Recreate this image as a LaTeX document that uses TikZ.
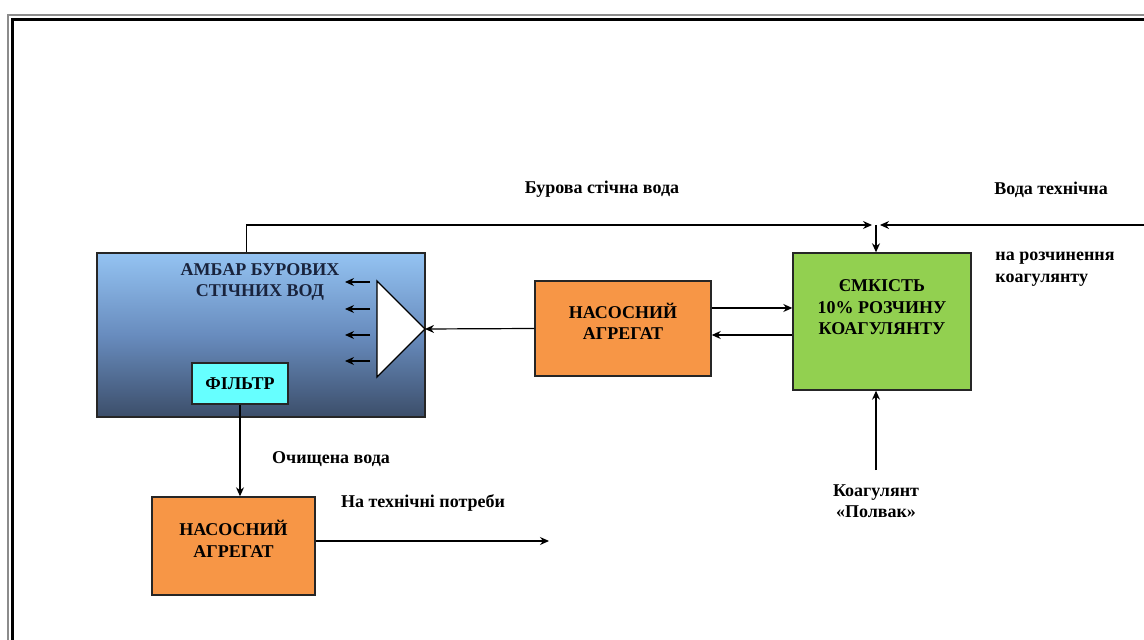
\documentclass[tikz,border=0pt]{standalone}
\usepackage{fontspec}
\setmainfont{Liberation Serif}
\usepackage{tikz}
\usetikzlibrary{arrows.meta, positioning}
\definecolor{pumporange}{RGB}{247,150,70}
\definecolor{tankgreen}{RGB}{146,208,80}
\definecolor{filtercyan}{RGB}{102,255,255}
\definecolor{pittop}{RGB}{148,195,242}
\definecolor{pitmid}{RGB}{104,140,190}
\definecolor{pitbot}{RGB}{60,78,106}
\definecolor{pittext}{RGB}{25,35,60}

\begin{document}
\begin{tikzpicture}[
  x=0.5pt, y=-0.5pt,
  every node/.style={font=\fontsize{9}{10.8}\selectfont\bfseries},
  block/.style={rectangle, draw=black!85, line width=0.7pt,
    inner sep=0pt, align=center},
  pump/.style={block, fill=pumporange, minimum width=88pt, minimum height=47.5pt},
  lbl/.style={inner sep=0pt, align=center},
  arr/.style={-{Stealth[length=4.5pt,width=4pt]}, line width=0.6pt}
]
  \useasboundingbox (0,0) rectangle (1144,640);

  %% page frame
  \draw[black!45, line width=1pt] (8,640) -- (8,15) -- (1144,15);
  \draw[black, line width=1.6pt] (12.5,640) -- (12.5,19.5) -- (1144,19.5);

  %% pit with filter
  \node[block, top color=pittop, bottom color=pitbot, middle color=pitmid,
    minimum width=164pt, minimum height=82pt] (ambar) at (261,335) {};
  \node[lbl, text=pittext] (ambartitle) at (260,282)
    {АМБАР БУРОВИХ\\СТІЧНИХ ВОД};
  \node[block, fill=filtercyan, minimum width=48pt, minimum height=20.5pt]
    (filter) at (240,383.5) {ФІЛЬТР};

  %% distributor
  \coordinate (apex) at (425,329);
  \draw[fill=white, line width=0.7pt] (377,281) -- (apex) -- (377,377) -- cycle;
  \foreach \y in {282,309,335,361}
    \draw[arr] (370,\y) -- (345,\y);

  %% pumps and tank
  \node[pump] (nasos1) at (623,328.5) {};
  \node[lbl] (nasos1text) at ([yshift=3.5pt]nasos1.center) {НАСОСНИЙ\\АГРЕГАТ};
  \node[block, fill=tankgreen, minimum width=89pt, minimum height=68.5pt]
    (tank) at (882,321.5) {};
  \node[lbl] (tanktext) at ([yshift=7pt]tank.center)
    {ЄМКІСТЬ\\10\% РОЗЧИНУ\\КОАГУЛЯНТУ};
  \node[pump, minimum width=81.5pt, minimum height=49pt] (nasos2) at (233.5,546) {};
  \node[lbl] (nasos2text) at ([yshift=3.5pt]nasos2.center) {НАСОСНИЙ\\АГРЕГАТ};

  %% supply lines
  \coordinate (jleft) at (872,225);
  \coordinate (jright) at (880,225);
  \coordinate (junc) at (876,225);
  \coordinate (techin) at (1144,225);
  \draw[arr] (ambar.north west) ++(150,0) |- (jleft);
  \draw[arr] (techin) -- (jright);
  \draw[arr] (junc) -- (junc |- tank.north);

  \coordinate (n1up) at ([yshift=10.25pt]nasos1.east);
  \coordinate (n1dn) at ([yshift=-3.25pt]nasos1.east);
  \draw[arr] (n1up) -- (n1up -| tank.west);
  \draw[arr] (n1dn -| tank.west) -- (n1dn);
  \draw[arr] (nasos1.west) -- (apex);

  \coordinate (koag) at (876,470);
  \draw[arr] (koag) -- (koag |- tank.south);

  \draw[arr] (filter.south) -- (filter.south |- nasos2.north);
  \coordinate (out) at (549,541);
  \draw[arr] (nasos2.east |- out) -- (out);

  %% labels
  \node[lbl] (drillwater) at (602,189) {Бурова стічна вода};
  \node[lbl] (techwater) at (1051,190) {Вода технічна};
  \node[lbl, anchor=west, align=left] (dilute) at (995,269)
    {на розчинення\\коагулянту};
  \node[lbl] (cleanwater) at (331,459) {Очищена вода};
  \node[lbl] (techneeds) at (423,503) {На технічні потреби};
  \node[lbl] (coagulant) at (876,501) {Коагулянт\\«Полвак»};
\end{tikzpicture}
\end{document}
